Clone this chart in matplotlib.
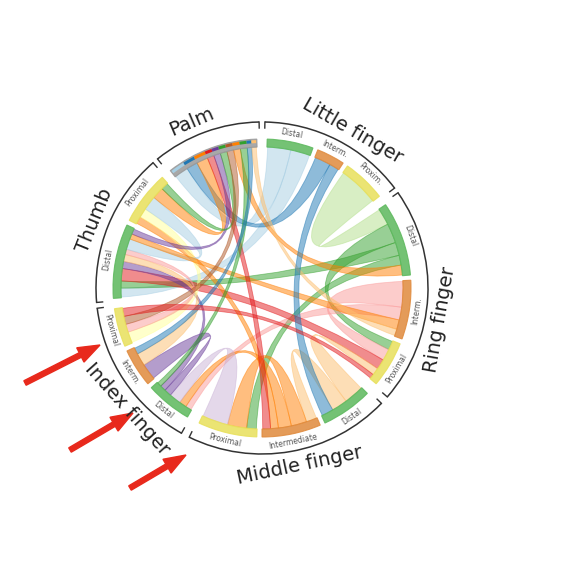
import numpy as np
import matplotlib
matplotlib.use("Agg")
import matplotlib.pyplot as plt
from matplotlib.path import Path
from matplotlib.patches import PathPatch, Wedge, FancyArrow
from matplotlib.patches import Arc

# ---------------- data ----------------
segments = ["LD", "LI", "LP", "RD", "RI", "RP", "MD", "MI", "MP", "ID", "II", "IP", "TD", "TP", "PA"]
seg_labels = ["Distal", "Interm.", "Proxim.", "Distal", "Interm.", "Proximal", "Distal", "Intermediate",
              "Proximal", "Distal", "Interm.", "Proximal", "Distal", "Proximal", ""]
seg_start = [2, 22, 35, 56, 87, 112, 135, 157, 182, 210, 230, 247, 266, 297, 322]
seg_end = [20, 33, 52, 85, 110, 130, 155, 180, 205, 228, 245, 262, 295, 318, 358]
seg_colors = ["#5cb85c", "#e08a3c", "#e8e05a", "#5cb85c", "#e08a3c", "#e8e05a", "#5cb85c", "#e08a3c",
              "#e8e05a", "#5cb85c", "#e08a3c", "#e8e05a", "#5cb85c", "#e8e05a", "#999999"]

groups = ["Little finger", "Ring finger", "Middle finger", "Index finger", "Thumb", "Palm"]
group_start = [1, 55, 134, 209, 265, 321]
group_end = [53, 131, 206, 263, 319, 359]
group_label_angle = [30, 100, 168, 228, 292, 337]

link_a = ["LD", "LD", "LI", "LP", "RD", "RD", "RD", "RI", "RI", "RP", "MD", "MD", "MI", "MI", "MI", "MP",
          "ID", "ID", "II", "IP", "IP", "TD", "TD", "TP", "PA", "PA", "PA", "PA", "PA", "PA", "PA", "PA", "LI", "RP"]
link_b = ["PA", "TD", "PA", "RD", "RP", "TD", "MP", "RP", "ID", "TD", "RP", "MI", "MP", "ID", "TP", "ID",
          "II", "TD", "TD", "TP", "TD", "TP", "RI", "PA", "MI", "TD", "TP", "IP", "RD", "ID", "II", "RI", "MD", "IP"]
link_v = [6, 5, 5, 5, 6, 4, 3, 8, 4, 7, 5, 4, 6, 5, 3, 8, 5, 4, 4, 4, 3, 6, 3, 5, 3, 3, 3, 3, 3, 3, 2, 2, 3, 3]
link_c = ["#a6cee3", "#a6cee3", "#1f78b4", "#b2df8a", "#33a02c", "#33a02c", "#33a02c", "#fb9a99", "#fb9a99",
          "#e31a1c", "#fdbf6f", "#fdbf6f", "#ff7f00", "#ff7f00", "#ff7f00", "#cab2d6", "#6a3d9a", "#6a3d9a",
          "#fdbf6f", "#ffff99", "#fb9a99", "#a6cee3", "#ff7f00", "#ff7f00", "#e31a1c", "#6a3d9a", "#33a02c",
          "#b15928", "#ff7f00", "#33a02c", "#1f78b4", "#fdbf6f", "#1f78b4", "#e31a1c"]

# ---------------- layout ----------------
CX, CY = 262, 288
R_IN, R_BAND, R_TXT, R_ARC, R_LAB = 141, 149, 157, 166, 181

fig = plt.figure(figsize=(5.86, 5.86), dpi=100)
ax = fig.add_axes([0, 0, 1, 1])
ax.set_xlim(0, 586)
ax.set_ylim(586, 0)
ax.set_aspect("equal")
ax.axis("off")


def pt(theta, r):
    t = np.radians(theta)
    return CX + r * np.sin(t), CY - r * np.cos(t)


def arc_pts(t0, t1, r, n=20):
    return [pt(t, r) for t in np.linspace(t0, t1, n)]


idx = {s: i for i, s in enumerate(segments)}
totals = {s: 0.0 for s in segments}
for a, b, v in zip(link_a, link_b, link_v):
    totals[a] += v
    totals[b] += v
cursor = {s: seg_start[idx[s]] + 0.3 for s in segments}


def take(s, v):
    i = idx[s]
    span = (seg_end[i] - seg_start[i] - 0.6) * v / totals[s]
    t0 = cursor[s]
    cursor[s] += span
    return t0, t0 + span


palm_marks = []
for a, b, v, c in zip(link_a, link_b, link_v, link_c):
    a0, a1 = take(a, v)
    b0, b1 = take(b, v)
    if a == "PA":
        palm_marks.append((a0, a1, c))
    if b == "PA":
        palm_marks.append((b0, b1, c))
    verts = arc_pts(a0, a1, R_IN)
    codes = [Path.MOVETO] + [Path.LINETO] * (len(verts) - 1)
    verts += [(CX, CY), pt(b0, R_IN)]
    codes += [Path.CURVE3, Path.CURVE3]
    bv = arc_pts(b0, b1, R_IN)
    verts += bv[1:]
    codes += [Path.LINETO] * (len(bv) - 1)
    verts += [(CX, CY), pt(a0, R_IN)]
    codes += [Path.CURVE3, Path.CURVE3]
    ax.add_patch(PathPatch(Path(verts, codes), facecolor=c, edgecolor=c, lw=0.6, alpha=0.5))

for i, s in enumerate(segments):
    t0, t1 = seg_start[i], seg_end[i]
    w = Wedge((CX, CY), R_BAND, -90 + t0, -90 + t1, width=R_BAND - R_IN,
              facecolor=seg_colors[i], edgecolor=seg_colors[i], lw=0.8, alpha=0.85)
    ax.add_patch(w)
    tm = (t0 + t1) / 2
    x, y = pt(tm, R_TXT)
    rot = -tm if (tm < 90 or tm > 270) else 180 - tm
    if seg_labels[i]:
        ax.text(x, y, seg_labels[i], fontsize=5.5, rotation=rot, ha="center", va="center", color="#555555")

for t0, t1, c in palm_marks:
    ax.add_patch(Wedge((CX, CY), R_BAND - 1, -90 + t0, -90 + t1, width=3, facecolor=c, edgecolor="none"))

for g, t0, t1, tl in zip(groups, group_start, group_end, group_label_angle):
    ax.add_patch(Arc((CX, CY), 2 * R_ARC, 2 * R_ARC, theta1=-90 + t0, theta2=-90 + t1, color="#333333", lw=1.1))
    for t in (t0, t1):
        p0, p1 = pt(t, R_ARC), pt(t, R_ARC - 6)
        ax.plot([p0[0], p1[0]], [p0[1], p1[1]], color="#333333", lw=1.0)
    x, y = pt(tl, R_LAB)
    rot = -tl if (tl < 90 or tl > 270) else 180 - tl
    ax.text(x, y, g, fontsize=14, rotation=rot, ha="center", va="center", color="#222222")

for (x0, y0, x1, y1) in [(25, 383, 100, 345), (70, 450, 133, 413), (130, 488, 186, 455)]:
    ax.add_patch(FancyArrow(x0, y0, x1 - x0, y1 - y0, width=5, head_width=16, head_length=22,
                            length_includes_head=True, color="#e8291c"))

fig.savefig("out.png", dpi=100)
